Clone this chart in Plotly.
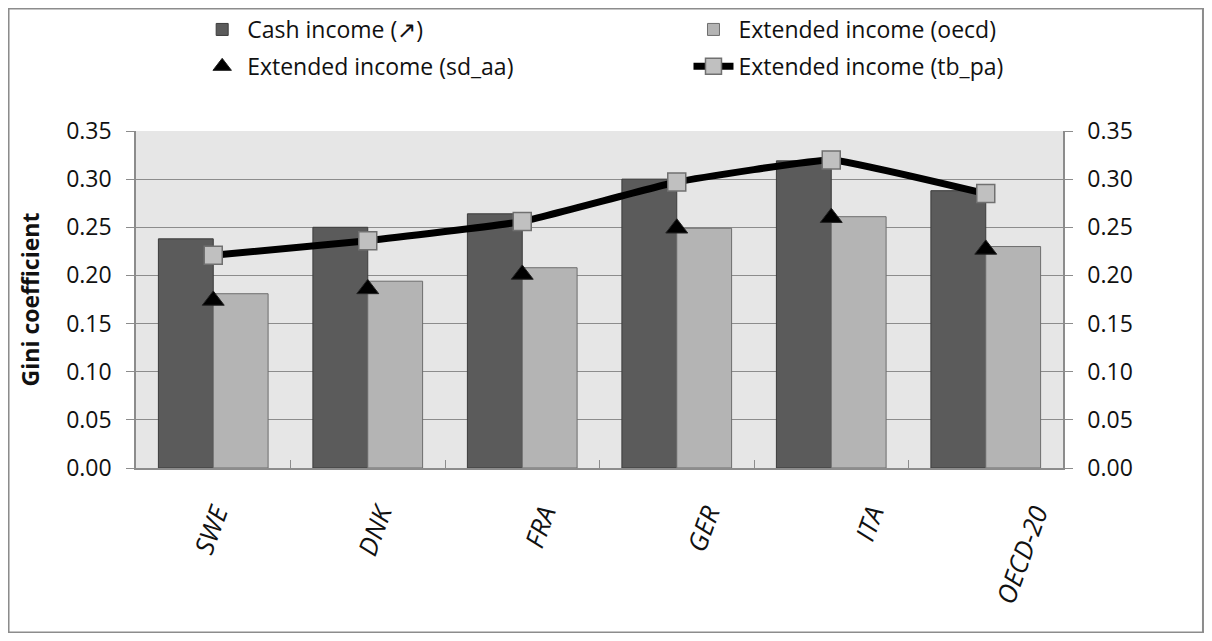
import plotly.graph_objects as go

# paises / categorias
paises = ["SWE", "DNK", "FRA", "GER", "ITA", "OECD-20"]

# valores (coeficiente de Gini)
cash_income = [0.238, 0.250, 0.264, 0.300, 0.319, 0.288]
ext_oecd = [0.181, 0.194, 0.208, 0.249, 0.261, 0.230]
ext_sd_aa = [0.174, 0.186, 0.201, 0.249, 0.260, 0.227]
ext_tb_pa = [0.221, 0.236, 0.256, 0.297, 0.320, 0.285]

ticks_y = [0.00, 0.05, 0.10, 0.15, 0.20, 0.25, 0.30, 0.35]
ticks_y_txt = ["%.2f" % v for v in ticks_y]

fuente = "Open Sans"
gris_txt = "#111111"

fig = go.Figure()

# la leyenda va en dos columnas -> dos leyendas
fig.add_trace(go.Bar(
    x=paises, y=cash_income, name="Cash income (↗)",
    legend="legend", legendgroup="a",
    marker=dict(color="#5b5b5b", line=dict(color="#3c3c3c", width=1)),
))
fig.add_trace(go.Bar(
    x=paises, y=ext_oecd, name="Extended income (oecd)",
    legend="legend2", legendgroup="b",
    marker=dict(color="#b4b4b4", line=dict(color="#6e6e6e", width=1)),
))
fig.add_trace(go.Scatter(
    x=paises, y=ext_sd_aa, name="Extended income (sd_aa)", yaxis="y2",
    legend="legend", legendgroup="c",
    mode="markers",
    marker=dict(symbol="triangle-up", size=19, color="black",
                line=dict(color="#222222", width=1)),
))
fig.add_trace(go.Scatter(
    x=paises, y=ext_tb_pa, name="Extended income (tb_pa)", yaxis="y2",
    legend="legend2", legendgroup="d",
    mode="lines+markers",
    line=dict(color="black", width=7, shape="spline", smoothing=0.3),
    marker=dict(symbol="square", size=18, color="#c0c0c0",
                line=dict(color="#707070", width=1.5)),
))
# traza invisible solo para el eje de etiquetas (en el original estan un poco corridas)
fig.add_trace(go.Scatter(
    x=paises, y=cash_income, xaxis="x2", mode="markers",
    marker=dict(opacity=0), showlegend=False, hoverinfo="skip",
))

eje_y = dict(
    range=[0, 0.35], tickvals=ticks_y, ticktext=ticks_y_txt,
    showline=True, linecolor="#8c8c8c", linewidth=1.5,
    ticks="outside", ticklen=8, tickcolor="#8c8c8c", ticklabelstandoff=10,
    tickfont=dict(family=fuente, size=23, color=gris_txt),
    zeroline=False, automargin=False,
)

leyenda = dict(
    orientation="v", yanchor="top", xanchor="left",
    font=dict(family=fuente, size=23, color=gris_txt),
    bgcolor="rgba(0,0,0,0)", tracegroupgap=4, itemwidth=40,
)

fig.update_layout(
    width=1196, height=625,
    margin=dict(l=128, r=141, t=123, b=165, autoexpand=False),
    paper_bgcolor="white", plot_bgcolor="#e6e6e6",
    barmode="group", bargap=0.29, bargroupgap=0,
    font=dict(family=fuente, size=22, color=gris_txt),
    xaxis=dict(
        showline=True, linecolor="#8c8c8c", linewidth=1.5,
        ticks="inside", tickson="boundaries", ticklen=8, tickcolor="#8c8c8c",
        showticklabels=False, showgrid=False, automargin=False,
    ),
    xaxis2=dict(
        overlaying="x", anchor="y", side="bottom",
        type="category", categoryorder="array", categoryarray=paises,
        range=[-0.488, 5.164],
        showline=False, ticks="", showgrid=False, automargin=False,
        tickangle=-70, ticklabelstandoff=24,
        tickfont=dict(family=fuente, size=26, style="italic", color=gris_txt),
    ),
    yaxis=dict(
        **eje_y,
        showgrid=True, gridcolor="#8c8c8c", gridwidth=1,
        title=dict(text="<b>Gini coefficient</b>", standoff=20,
                   font=dict(family=fuente, size=23, color=gris_txt)),
    ),
    yaxis2=dict(
        **eje_y,
        overlaying="y", side="right", showgrid=False,
    ),
    legend=dict(leyenda, x=0.066, y=1.365),
    legend2=dict(leyenda, x=0.596, y=1.365),
    showlegend=True,
    shapes=[dict(
        type="rect", xref="paper", yref="paper",
        x0=-0.1375, x1=1.151, y0=-0.4881, y1=1.3635,
        line=dict(color="#8c8c8c", width=2), fillcolor="rgba(0,0,0,0)",
        layer="below",
    )],
)

fig.write_html("out.html")
